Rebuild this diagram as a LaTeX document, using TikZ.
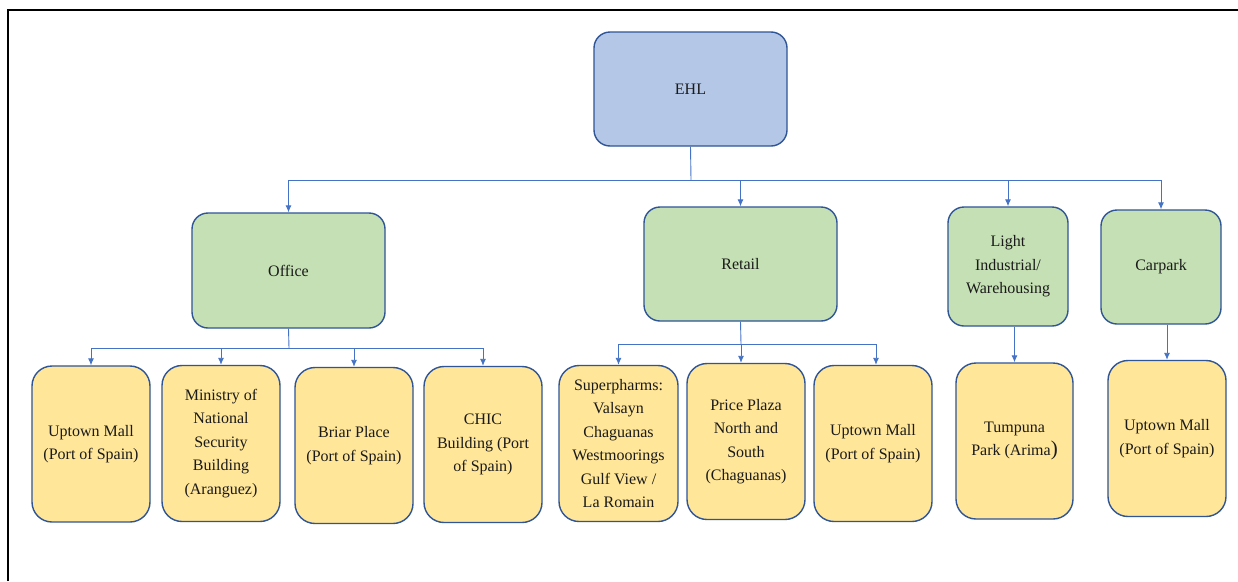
\documentclass[tikz,border=0pt]{standalone}
\usepackage{fontspec}
\setmainfont{Liberation Serif}
\usetikzlibrary{arrows.meta}
\definecolor{topfill}{HTML}{B4C7E7}
\definecolor{midfill}{HTML}{C5E0B4}
\definecolor{leaffill}{HTML}{FFE699}
\definecolor{boxedge}{HTML}{2F5597}
\definecolor{linkcol}{HTML}{4472C4}
\definecolor{txt}{HTML}{1A1A1A}
\begin{document}
\begin{tikzpicture}[x=1pt,y=-1pt,
  basebox/.style={draw=boxedge,line width=1.4pt,align=center,text=txt,
    font=\fontsize{16}{23.5}\selectfont,inner sep=2pt},
  topbox/.style={basebox,fill=topfill,rounded corners=16pt,minimum width=193pt,minimum height=114pt},
  midbox/.style={basebox,fill=midfill,rounded corners=16pt},
  leafbox/.style={basebox,fill=leaffill,rounded corners=20pt,minimum width=118pt,minimum height=156pt},
  link/.style={draw=linkcol,line width=0.9pt},
  arrowlink/.style={link,-{Latex[length=7pt,width=6pt]}}]
\useasboundingbox (0,0) rectangle (1238,581);
\fill[white] (0,0) rectangle (1238,581);
\draw[line width=2.2pt,black] (8,581) -- (8,10) -- (1238,10);

% top
\node[topbox] (ehl) at (690.5,89) {EHL};

% segments
\node[midbox,minimum width=193pt,minimum height=115pt] (office) at (288.5,270.5) {Office};
\node[midbox,minimum width=193pt,minimum height=114pt] (retail) at (740.5,264) {Retail};
\node[midbox,minimum width=120pt,minimum height=119pt] (light) at (1008,266.5) {Light\\Industrial/\\Warehousing};
\node[midbox,minimum width=120pt,minimum height=114pt] (carpark) at (1161,267) {Carpark};

% leaves office
\node[leafbox] (o1) at (91,444) {Uptown Mall\\(Port of Spain)};
\node[leafbox] (o2) at (221,443.5) {Ministry of\\National\\Security\\Building\\(Aranguez)};
\node[leafbox] (o3) at (354,445.5) {Briar Place\\(Port of Spain)};
\node[leafbox] (o4) at (483,444.5) {CHIC\\Building (Port\\of Spain)};
% leaves retail
\node[leafbox,minimum width=119pt] (r1) at (618.5,443.5) {Superpharms:\\Valsayn\\Chaguanas\\Westmoorings\\Gulf View /\\La Romain};
\node[leafbox] (r2) at (746,441.5) {Price Plaza\\North and\\South\\(Chaguanas)};
\node[leafbox] (r3) at (873,443.5) {Uptown Mall\\(Port of Spain)};
% leaves light / carpark
\node[leafbox,minimum width=117pt] (l1) at (1014.5,441) {Tumpuna\\Park (Arima{\fontsize{21}{21}\selectfont )}};
\node[leafbox] (c1) at (1167,438.5) {Uptown Mall\\(Port of Spain)};

% junctions
\coordinate (j0) at (691,180);
\coordinate (j1) at (289,348);
\coordinate (j2) at (741,344);

% EHL to segments
\draw[link] (ehl.south) -- (j0);
\draw[arrowlink] (j0) -| (office.north);
\draw[arrowlink] (j0) -| (retail.north);
\draw[arrowlink] (j0) -| (light.north);
\draw[arrowlink] (j0) -| (carpark.north);

% office to leaves
\draw[link] (office.south) -- (j1);
\draw[arrowlink] (j1) -| (o1.north);
\draw[arrowlink] (j1) -| (o2.north);
\draw[arrowlink] (j1) -| (o3.north);
\draw[arrowlink] (j1) -| (o4.north);

% retail to leaves
\draw[link] (retail.south) -- (j2);
\draw[arrowlink] (j2) -| (r1.north);
\draw[arrowlink] (j2) -- (j2 |- r2.north);
\draw[arrowlink] (j2) -| ([xshift=3pt]r3.north);

% light and carpark
\draw[arrowlink] (l1.north |- light.south) -- (l1.north);
\draw[arrowlink] (c1.north |- carpark.south) -- (c1.north);
\end{tikzpicture}
\end{document}
